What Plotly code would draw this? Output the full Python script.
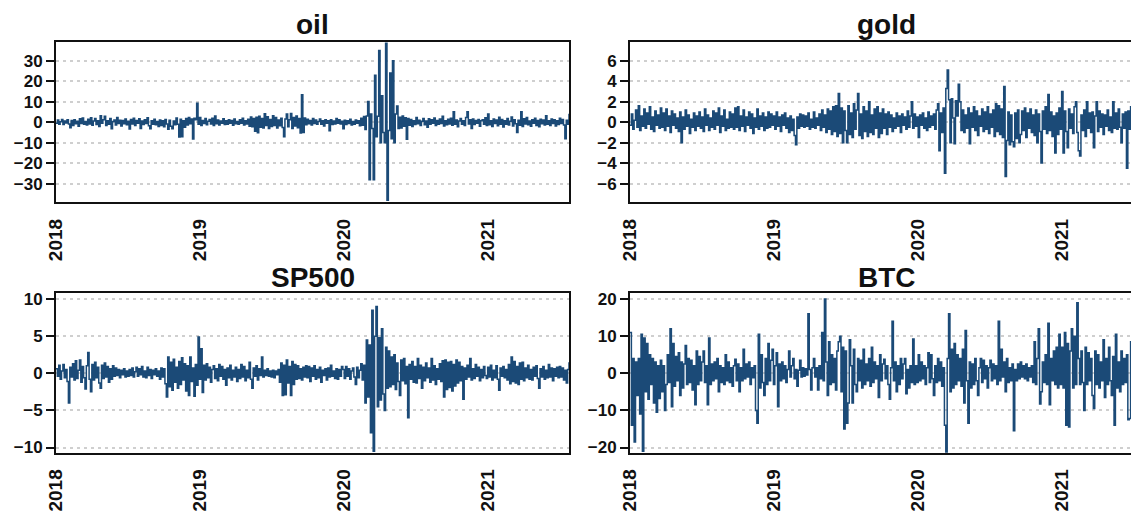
import plotly.graph_objects as go
import pandas as pd

# ---- data: returns (%), one value every 3.5 days from 2018-01-01 ----
start_date = "2018-01-01"
step = "84h"

oil = [
    -0.4, 1.1, -0.9, 0.3, 1.4, -1.1, 0.6, -0.3, 1.2, -0.8, -2.6, 0.9, -1.5, 1.3, -0.7, 0.5, -1.9, 1.7, -0.6, 2.1, -1.0, 0.4, -1.3,
    1.5, -0.8, 2.2, -1.4, 0.6, 1.9, -1.1, 0.8, -2.0, 3.2, -0.5, 1.2, 3.0, -1.6, 0.7, -0.9, 1.8, -3.1, 0.4, 1.1, -1.3, 2.4, -0.6, 1.0, -1.8, 0.9,
    -0.7, 1.6, -1.2, 0.5, -3.3, 1.4, -0.8, 2.0, -1.5, 0.9, -0.4, 1.7, -3.0, 0.6, -1.1, 1.3, -0.6, 2.2, -1.7, -3.2, 0.8, -0.9, 1.5, -1.2, 0.4, -2.1,
    1.1, -1.6, 0.7, -2.2, 1.4, -0.8, -3.4, 1.0, -1.9, -3.1, 0.6, -1.2, 2.1, -0.9, -7.2, 1.5, -7.0, 0.8, -2.4, 1.9, -1.3, 2.3, -0.7, 1.6, -8.1, 2.0,
    1.2, 9.3, -1.0, 2.4, -1.5, 0.9, -0.6, 1.8, -1.2, 0.5, 1.4, -0.8, 2.0, -1.6, 3.1, -0.7, 1.1, -1.3, 0.6, -0.4, 1.7, -1.1, 0.8, -0.9, 1.3, -0.5,
    0.9, -1.4, 1.6, -0.7, 0.4, -1.0, 1.2, -0.5, 2.0, -1.3, 0.7, -0.8, 1.5, -1.9, 2.6, -2.2, 1.8, -4.3, 2.5, -5.1, 3.0, -2.4, 1.9, -2.8, 4.2, -1.6,
    2.7, -3.0, 1.4, -2.1, 3.2, -1.5, 2.3, -2.8, 1.1, -1.7, 2.0, -2.5, -7.1, 1.6, 4.1, -2.2, 1.3, 4.3, -3.0, 2.4, -1.8, 3.1, -2.6, 1.9, -5.2, 13.4,
    -5.0, 2.1, -1.2, 1.5, -0.7, 0.9, -1.3, 1.8, -0.6, 1.1, -0.9, 0.4, 1.6, -1.0, 0.7, -1.8, 1.2, -0.5, 0.8, -4.1, 1.3, -1.1, 0.6, -0.8, 1.9, -0.4,
    1.2, -0.8, 0.5, -3.2, 1.0, -1.1, 0.7, -0.6, 1.5, -1.3, 0.4, -0.9, 1.1, -0.5, 0.8, -1.7, 2.0, -1.4, 2.8, -3.5, 3.1, 10.2, -28.0, 4.0, -3.0, -28.0,
    23.0, -7.0, 3.0, 35.0, -10.0, 13.0, -5.0, -10.0, 38.5, -38.0, -4.0, 24.0, -8.0, 30.0, -10.0, 4.0, 8.0, -3.0, 2.5, -2.8, 3.1, -1.9, 2.2, -8.2, 1.8, -1.4,
    1.4, -2.0, 0.8, -1.1, 2.3, -0.7, 1.0, -1.6, 0.5, 1.9, -1.2, 0.6, -2.4, 1.7, -0.9, 1.2, -0.4, 2.1, -1.5, 0.9, -1.0, 1.6, -0.6, 3.0, -1.8, 0.7,
    -1.2, 1.5, -0.8, 2.0, -1.4, 5.2, -0.9, 1.1, -2.2, 0.6, 1.8, -1.0, 0.7, -1.6, 2.3, 5.1, -0.8, 1.2, -3.0, 1.6, -1.1, 0.9, -0.5, 1.4, -1.9, 0.8,
    1.3, -0.9, 2.2, -1.5, 4.0, -1.2, 0.8, -2.0, 1.6, -0.6, 1.1, -1.7, 2.5, -0.9, 1.4, -2.3, 0.7, -1.0, 1.9, -1.3, 0.5, 2.6, -1.8, 1.2, -0.7, -5.0,
    1.0, -1.4, 5.1, -2.1, 1.7, -0.8, 2.4, -1.2, 0.6, -1.9, 1.3, -0.5, 2.0, -1.6, 0.9, -2.2, 1.5, -0.7, 1.1, -1.3, 3.2, -0.9, 0.8, -1.5, 1.6, -0.6,
    1.2, -1.8, 0.7, -1.1, 2.0, -0.6, 1.4, -1.3, -8.0, 1.0, -0.9, 4.2,
]

gold = [
    -0.3, 0.8, -0.7, 0.2, 1.2, -0.5, 1.6, -0.8, 0.6, -0.4, 1.3, -0.6, 0.9, -0.2, 1.5, -0.7, 0.5, -0.9, 1.1, -0.3, 0.7, -0.6, 1.4,
    -0.5, 0.9, -0.8, 1.3, -0.4, 0.6, -1.0, 1.1, -0.3, 0.8, -0.6, 0.4, -0.9, 1.0, -2.0, 0.5, -0.7, 1.2, -0.4, 0.7, -1.1, 0.3, -0.5, 0.9, -0.8, 0.6,
    -0.4, 1.0, -0.6, 0.5, -0.9, 1.3, -0.3, 0.7, -0.8, 0.4, -0.5, 1.1, -0.7, 0.9, -0.3, 1.4, -1.0, 0.6, -0.4, 1.2, -0.8, 0.3, -0.6, 1.0, -0.5, 0.8,
    -0.7, 1.4, -0.5, 1.5, -0.8, 0.6, -0.4, 1.2, -0.9, 0.5, -0.3, 1.0, -0.6, 0.8, -1.1, 0.4, -0.5, 1.3, -0.7, 0.6, -0.4, 0.9, -0.8, 0.5, -0.6, 1.0,
    -0.5, 0.8, -0.3, 0.6, -0.7, 1.0, -0.4, 0.5, -0.9, 0.7, -0.3, 0.9, -0.6, 0.4, -1.0, 0.6, -0.8, 0.3, -1.3, -2.2, 0.5, -0.6, 0.8, -0.4, 0.7, -0.5,
    0.6, -0.4, 0.9, -0.7, 0.3, -0.5, 1.0, -0.6, 0.4, -0.3, 0.8, -0.8, 1.2, -0.5, 0.7, -1.0, 1.3, -0.7, 1.1, -1.2, 1.5, -0.9, 1.6, -1.4, 2.8, -1.1,
    1.4, -2.0, 1.1, -0.8, -2.0, 1.6, -1.2, 0.9, -1.5, 1.8, -0.7, 1.2, 2.8, -1.3, 0.8, -1.6, 1.5, -0.9, 1.1, -1.4, 2.0, -1.0, 0.7, -1.2, 1.3, -0.6,
    1.5, -1.5, 0.9, -1.1, 1.3, -0.6, 0.8, -1.2, 1.0, -0.5, 0.7, -0.9, 0.4, -0.6, 0.9, -0.4, 0.6, -1.0, 0.8, -0.3, 0.5, -0.7, 1.1, -0.5, 0.6, 2.0,
    -0.6, 0.8, -0.4, 0.5, -1.5, 0.7, -0.3, 0.9, -0.6, 0.4, -0.8, 1.0, -0.5, 0.6, -0.3, 0.8, -0.7, 1.2, 1.8, -2.8, 0.9, -1.0, 1.4, -5.0, 3.3, 5.1,
    2.2, -2.0, 2.3, 0.4, -2.1, 2.1, 0.6, 3.7, 2.0, -0.8, 1.2, -1.0, 0.7, -0.6, 1.4, -2.1, 0.9, -0.5, 1.5, -0.8, 1.1, -1.3, 0.6, -0.4, 1.3, -0.9,
    1.0, -0.7, 1.5, -1.1, 0.8, -0.5, 1.2, -1.4, 1.8, -0.9, 1.6, -1.2, 1.3, -1.5, 3.5, -5.3, -1.8, 1.0, -2.2, 0.7, -1.9, -2.4, 0.9, -1.6, 1.2, -2.0,
    -1.2, 1.1, -0.8, 1.4, -1.5, 0.9, -0.6, 1.3, -1.0, 0.7, -1.3, 1.2, -2.0, 0.8, -0.9, -4.0, 1.1, -0.7, 1.5, -1.1, 2.7, -0.8, 1.0, -1.4, 0.6, -3.0,
    0.9, -1.2, 1.4, -0.7, 3.0, -3.0, 1.1, -0.9, -2.5, 1.3, -0.6, 0.8, -1.1, 1.5, 2.0, -1.0, -2.8, -3.3, 0.7, -0.8, 1.2, -1.4, 2.0, -0.6, 0.9, -1.0,
    1.0, -2.5, 0.6, 2.0, -0.9, 1.1, -0.5, 0.8, -1.2, 0.7, -0.4, 1.2, -0.8, 0.5, -1.0, 2.0, -0.6, 0.9, -0.7, 1.3, -0.5, -2.0, 0.8, -0.6, 1.0, -4.5,
    1.1, -0.7, 1.5, -0.9, 0.6, -0.5, 1.2, -1.0, 0.8, -0.4, 0.9, -0.7,
]

sp500 = [
    0.6, -0.4, 1.1, -0.8, 0.3, 1.2, -0.6, 0.5, -1.1, -4.0, 0.8, -0.5, 1.3, -0.9, 1.7, -0.7, 0.4, 1.8, -1.2, 0.9, -0.6, -2.1, 1.0, 2.8, -0.8, -2.5,
    1.2, -0.9, 1.5, -0.6, 0.8, -1.3, -2.0, 1.1, -0.7, 1.4, -0.5, 0.9, -1.2, 0.6, -0.8, 1.0, -0.4, 0.7, -0.3, 0.5, -0.6, 0.4, -0.2, 0.6, -0.5, 0.3,
    -0.4, 0.5, -0.3, 0.7, -0.5, 0.2, 0.8, -0.4, 0.6, -0.2, 0.9, -0.5, 0.3, -0.6, 0.8, -0.3, 0.5, -0.7, 0.4, -0.2, 0.6, -0.4, 0.3, -0.8, 0.7, -0.5,
    0.6, -1.4, -3.2, 2.2, -1.8, 1.5, -2.3, 1.9, -1.2, 0.8, -2.0, 1.6, -1.5, 2.1, -0.9, 1.3, -2.4, 1.0, -3.0, 2.2, -1.1, 0.7, -3.1, 1.2, -1.6, 4.9,
    -0.8, 3.3, -2.6, 1.1, -0.9, 1.3, -0.6, 0.8, -1.2, 0.5, 1.0, -0.7, 0.6, -1.0, 1.2, -0.4, 0.9, -0.8, 0.5, -1.6, 0.7, -0.6, 1.1, -0.9, 0.4, -0.5,
    0.8, -1.1, 0.5, -0.7, 1.2, -0.5, 0.9, -1.0, 0.4, -0.6, 1.5, -0.8, -2.0, 0.7, -0.4, 1.0, -0.9, 0.6, -0.3, 2.2, -0.5, 0.4, -0.3, 0.6, -0.4, 0.3,
    -0.5, 0.4, -0.6, 0.3, -0.2, 0.5, -1.2, 1.4, -3.0, 1.1, -2.9, 1.8, -1.3, 0.9, -3.0, 1.6, -1.5, 1.2, -0.8, 1.0, -0.7, 0.6, -0.9, 0.8, -0.5, 1.0,
    -0.6, 0.9, -1.1, 0.7, -0.4, 1.0, -0.8, 0.5, -0.6, 0.8, -1.2, 0.4, -0.3, 0.6, -0.9, 0.7, -0.5, 1.1, -0.4, 0.3, -0.7, 0.6, -0.8, 0.5, -0.4, 0.9,
    0.5, -0.7, 0.9, -0.4, 0.6, -0.8, 0.3, 0.7, -0.5, -1.5, 0.8, -0.6, 0.4, 1.3, -0.9, 1.1, -4.0, 4.5, -3.2, 3.8, -8.0, 8.5, -10.5, 5.0, 9.0, -4.5,
    4.8, -3.6, 6.0, -2.8, -5.0, 3.5, -2.0, 3.0, -1.8, 2.2, -1.5, 2.5, -2.2, 1.4, -1.1, -3.0, 1.8, -1.0, 2.0, -1.4, 0.9, -6.0, 1.2, -0.8, 1.6, -1.2,
    0.9, -1.3, 2.0, -0.7, 1.1, -2.0, 0.8, -1.0, 1.4, -0.6, 0.7, -1.2, 2.0, -0.9, 1.0, -1.5, 0.6, -0.8, 1.3, -1.1, 1.7, -3.2, 1.8, -2.2, 1.5, -1.9,
    1.6, -2.4, 1.2, -1.7, 1.8, -1.3, 1.5, -1.0, 0.9, -3.5, 0.7, -0.8, 1.1, -0.5, 2.0, -0.9, 0.6, -0.7, 1.2, -0.4, 0.8, -1.0, 0.5, -0.6, 0.9, -0.3,
    -0.7, 0.8, -0.5, 1.1, -0.9, 0.4, -0.6, 1.0, -0.8, -2.3, 0.7, -0.4, 0.9, -0.6, 0.5, -0.9, 1.2, -1.4, 2.2, -1.1, 1.6, -1.3, 0.9, -1.5, 1.4, -0.8,
    1.5, -1.0, 0.7, -0.6, 1.1, -0.8, 0.5, -0.9, 0.8, -0.4, 1.0, -0.7, -2.0, 0.6, -0.5, 0.9, -0.8, 0.4, -0.6, 1.2, -0.5, 0.7, -1.0, 0.6, -0.4, 0.8,
    -0.6, 0.9, -0.5, 0.7, -0.9, 0.4, -1.3, 0.5, 1.5,
]

btc = [
    11.0, -14.0, 4.0, -18.5, 3.0, -6.0, 4.0, -11.0, 10.5, -21.0, 9.5, -5.0, 8.0, -7.0, 5.0, -3.0, 4.0, -8.0, 3.0, -10.5, 2.0, -6.8, 3.5, -5.0, 2.0, -10.0,
    -3.0, 5.0, -2.5, 12.0, -9.0, 8.0, -3.5, 4.5, -2.0, 5.5, -6.0, 3.0, -4.0, 2.5, 7.5, -3.0, 4.0, -2.5, 3.5, -4.5, 2.0, -8.5, 6.0, -3.0, 4.5, -2.0,
    3.0, 6.0, -2.5, 2.0, -8.5, 9.5, -3.0, 2.5, -2.0, 3.0, -1.5, 4.0, -5.0, 2.0, -2.5, 1.5, -3.0, 5.0, -2.0, 3.0, -2.5, 1.5, -3.5, 2.0, 3.8, -2.0,
    2.5, -5.0, 1.5, -2.0, 6.5, -1.5, 2.5, -1.0, 3.0, -3.0, 1.5, -1.2, 2.0, -10.0, -13.5, 10.5, -4.0, 5.0, -2.5, -6.0, 4.0, -3.0, 8.0, -2.0, 3.5, 6.5,
    -3.0, 2.0, 5.5, -9.0, 2.5, -2.0, 3.0, -1.5, 2.0, -2.5, 1.0, 6.0, -1.0, 2.0, 4.0, -1.5, 1.0, -3.5, 0.8, 3.5, -1.0, 1.5, -0.8, 1.2, -0.5, 16.0,
    1.0, -4.5, 1.5, 4.0, -1.0, 1.5, -4.5, 2.0, -1.5, 11.0, -2.0, 20.0, 3.0, -6.0, 8.5, -3.0, 5.0, -2.5, 4.0, -4.5, 6.0, 8.5, 10.0, -5.0, 7.0, -15.0,
    6.0, -13.5, -8.0, 9.0, 2.0, -8.0, 6.5, -3.0, -5.0, 4.0, -2.0, 3.5, -4.0, 6.5, -3.0, 2.5, -2.0, 4.0, -3.5, 7.0, -2.5, 3.0, -1.5, 2.0, -6.5, 5.0,
    -2.0, 2.5, 3.8, -1.5, 2.0, -3.0, -7.0, 1.5, 14.0, -2.0, 3.0, -5.0, 2.0, -3.0, 4.0, -1.5, 2.5, 4.0, -5.5, 1.0, -4.0, 2.0, -2.5, 9.2, -3.0, 2.0,
    -2.5, 5.0, -2.0, 3.0, -1.5, 2.0, -3.0, 1.5, 5.5, -2.5, 5.0, -1.5, -6.0, 2.0, -2.5, 4.0, -2.0, 3.0, -3.5, 1.5, -14.0, -21.5, 4.0, 16.0, -5.0, 6.5,
    -4.0, 8.0, -3.0, 5.0, -2.0, 4.0, -3.5, 6.5, -8.0, 11.5, -2.0, -13.5, 3.0, -4.0, 2.5, -3.0, 4.0, -2.0, -6.0, 1.5, 4.0, -2.5, 3.5, -1.5, 2.0, -4.0,
    1.5, 3.5, -2.0, 2.5, -1.5, 2.0, -3.0, 14.0, -2.0, 6.5, -1.0, 3.0, -5.0, 4.0, -2.5, 1.5, -2.0, 2.5, -15.5, 1.0, -2.0, 2.5, -1.5, 3.0, -1.0, 2.0,
    -1.5, 2.5, -2.0, 1.5, -1.0, 2.0, -2.5, 8.5, -3.0, 4.0, 12.0, -8.3, -5.0, 3.0, -2.5, 5.0, -3.0, 13.5, -8.5, 4.0, -2.0, 6.0, -3.0, 7.0, -4.0, 10.5,
    -3.0, 7.0, -4.0, 11.0, -14.0, 8.0, -14.5, 6.0, 12.0, -4.0, 10.0, -3.0, 19.0, 4.0, -3.0, 6.0, -2.5, -10.0, 7.0, -3.0, 5.5, -2.0, 4.0, -6.0, -9.5, 6.0,
    -3.0, 5.0, -4.0, 3.0, -2.0, 9.0, -6.5, 4.0, -3.0, 7.0, -2.0, -6.0, 4.5, -14.0, 10.5, -4.0, 3.0, -5.0, 6.0, -3.0, 4.0, -2.5, 5.0, -12.5, -12.2, 8.5,
    -4.0, 5.0, -3.0, 2.0, 8.0, -2.5, 3.0, -1.5, 2.0,
]

titles = ["oil", "gold", "SP500", "BTC"]
series = [oil, gold, sp500, btc]
y_tick_values = [
    [-30, -20, -10, 0, 10, 20, 30],
    [-6, -4, -2, 0, 2, 4, 6],
    [-10, -5, 0, 5, 10],
    [-20, -10, 0, 10, 20],
]
y_ranges = [[-39.0, 39.3], [-7.83, 7.87], [-10.7, 10.86], [-21.4, 21.7]]

# ---- layout geometry (screen pixels of the target picture) ----
VIEW_W, VIEW_H = 1139, 519
PAGE_MARGIN = 8  # default body margin of the html page
W, H = VIEW_W - PAGE_MARGIN, VIEW_H - PAGE_MARGIN
boxes = [  # x0, x1, ytop, ybottom (screen px)
    (56, 569, 41.7, 202.3),
    (630, 1143, 41.7, 202.3),
    (56, 569, 292.7, 452.7),
    (630, 1143, 292.7, 452.7),
]
title_y = [24, 24, 277, 277]

LINE = "#1b4a77"
FONT = "Liberation Sans, Arial, sans-serif"


def fx(px):
    return (px - PAGE_MARGIN) / W


def fy(py):
    return 1 - (py - PAGE_MARGIN) / H


fig = go.Figure()
annotations = []
for k, (name, vals) in enumerate(zip(titles, series)):
    dates = pd.date_range(start_date, periods=len(vals), freq=step)
    ax = "" if k == 0 else str(k + 1)
    fig.add_trace(go.Scatter(
        x=dates, y=vals, mode="lines", line=dict(color=LINE, width=1.5, shape="hv"),
        xaxis="x" + ax, yaxis="y" + ax, showlegend=False, hoverinfo="skip",
    ))
    x0, x1, yt, yb = boxes[k]
    vis_x1 = min(x1, VIEW_W)
    span = dates[-1] - dates[0]
    r_end = dates[0] + span * ((vis_x1 - x0) / (x1 - x0))
    clipped = x1 > VIEW_W
    fig.layout["xaxis" + ax] = dict(
        domain=[fx(x0), fx(vis_x1)], anchor="y" + ax, range=[dates[0], r_end],
        type="date", tick0="2018-01-01", dtick="M12", tickformat="%Y",
        tickangle=-90, ticks="outside", ticklen=7, tickcolor="rgba(0,0,0,0)",
        tickfont=dict(family=FONT, size=19, color="#111111", weight="bold"),
        showgrid=False, zeroline=False, showline=True, linecolor="#111111",
        linewidth=2, mirror=True, automargin=False,
    )
    fig.layout["yaxis" + ax] = dict(
        domain=[fy(yb), fy(yt)], anchor="x" + ax, range=y_ranges[k],
        tickvals=y_tick_values[k], ticks="outside", ticklen=8, tickwidth=2,
        tickcolor="#111111",
        tickfont=dict(family=FONT, size=17, color="#111111", weight="bold"),
        showgrid=True, gridcolor="#cfcfcf", gridwidth=1.6, griddash="3px,4px",
        zeroline=False, showline=True, linecolor="#111111", linewidth=2,
        mirror=not clipped, automargin=False,
    )
    annotations.append(dict(
        text="<b>" + name + "</b>", x=fx((x0 + x1) / 2), y=fy(title_y[k]),
        xref="paper", yref="paper", xanchor="center", yanchor="middle",
        showarrow=False, borderpad=0,
        font=dict(family=FONT, size=28, color="#111111"),
    ))

fig.update_layout(
    width=W, height=H, margin=dict(l=0, r=0, t=0, b=0, autoexpand=False),
    paper_bgcolor="white", plot_bgcolor="white", annotations=annotations,
)
fig.write_html("out.html")
